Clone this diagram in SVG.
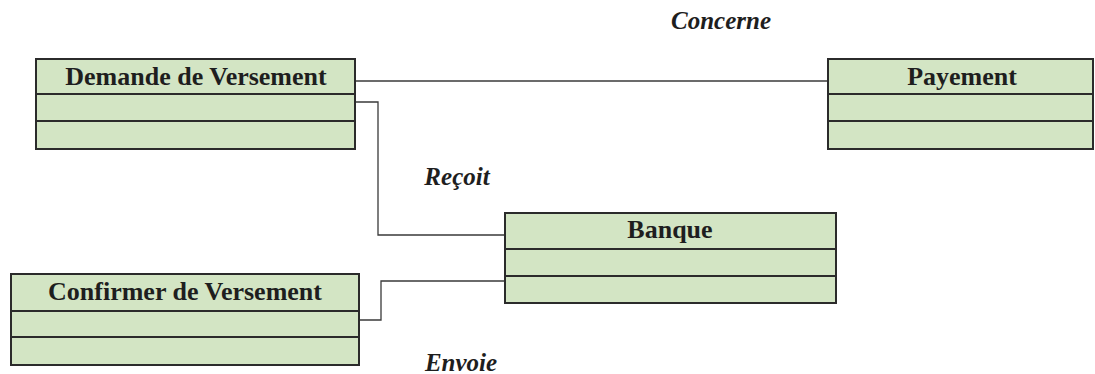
<svg xmlns="http://www.w3.org/2000/svg" width="1095" height="374" viewBox="0 0 1095 374">
  <style>
    .box { fill: #d3e5c4; stroke: #2b2b2b; stroke-width: 2; }
    .sep { stroke: #2b2b2b; stroke-width: 2; }
    .title { font-family: "Liberation Serif", "Times New Roman", serif; font-weight: bold; font-size: 26px; fill: #1e1e1e; text-anchor: middle; }
    .role { font-family: "Liberation Serif", "Times New Roman", serif; font-weight: bold; font-style: italic; font-size: 25px; fill: #1e1e1e; text-anchor: middle; }
    .link { fill: none; stroke: #3a3a3a; stroke-width: 1.3; }
  </style>
  <rect width="1095" height="374" fill="#ffffff"/>

  <!-- associations -->
  <g id="connectors">
    <path class="link" d="M355 81 H828"/>
    <path class="link" d="M355 102 H378 V235 H505"/>
    <path class="link" d="M359 320 H381 V281 H505"/>
    <text class="role" x="721" y="29">Concerne</text>
    <text class="role" x="457" y="185">Reçoit</text>
    <text class="role" x="461" y="371">Envoie</text>
  </g>

  <g id="demande">
    <rect class="box" x="36" y="59" width="319" height="90"/>
    <line class="sep" x1="36" y1="94" x2="355" y2="94"/>
    <line class="sep" x1="36" y1="121" x2="355" y2="121"/>
    <text class="title" x="196" y="85">Demande de Versement</text>
  </g>

  <g id="payement">
    <rect class="box" x="828" y="59" width="265" height="90"/>
    <line class="sep" x1="828" y1="94" x2="1093" y2="94"/>
    <line class="sep" x1="828" y1="121" x2="1093" y2="121"/>
    <text class="title" x="962" y="85">Payement</text>
  </g>

  <g id="banque">
    <rect class="box" x="505" y="213" width="331" height="90"/>
    <line class="sep" x1="505" y1="249" x2="836" y2="249"/>
    <line class="sep" x1="505" y1="276" x2="836" y2="276"/>
    <text class="title" x="670" y="238">Banque</text>
  </g>

  <g id="confirmer">
    <rect class="box" x="11" y="274" width="348" height="91"/>
    <line class="sep" x1="11" y1="311" x2="359" y2="311"/>
    <line class="sep" x1="11" y1="337" x2="359" y2="337"/>
    <text class="title" x="185" y="300">Confirmer de Versement</text>
  </g>
</svg>
